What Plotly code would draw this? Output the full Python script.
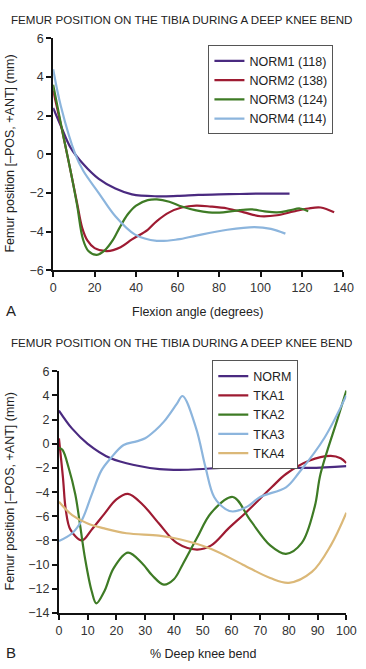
import plotly.graph_objects as go

W, H = 366, 669

# ---------- Panel A data ----------
norm1_x = [0, 4, 8.4, 14.5, 22, 30, 38, 50, 60, 70, 80, 90, 100, 114]
norm1_y = [2.4, 1.4, 0.35, -0.5, -1.27, -1.77, -2.07, -2.17, -2.15, -2.1, -2.07, -2.05, -2.03, -2.03]

norm2_x = [0, 5, 8.4, 11.5, 14, 16.5, 20, 26, 32.5, 38, 45.6, 50, 56, 62, 69, 76, 84, 92, 100, 108, 116, 123, 129, 135.5]
norm2_y = [3.3, 0.9, -0.86, -2.5, -3.8, -4.45, -4.85, -5.0, -4.8, -4.4, -3.9, -3.45, -3.0, -2.75, -2.65, -2.7, -2.8, -3.0, -3.2, -3.15, -2.95, -2.8, -2.75, -3.0]

norm3_x = [0, 5, 8.4, 11.5, 14.4, 17, 21, 25, 29, 32, 36, 40, 45.6, 50, 56, 62, 69, 75, 82, 90, 96, 102, 108, 114, 119, 123]
norm3_y = [3.6, 0.9, -0.86, -2.6, -4.4, -5.0, -5.2, -4.95, -4.4, -3.8, -3.1, -2.65, -2.37, -2.33, -2.45, -2.7, -2.9, -3.0, -3.0, -2.88, -2.85, -2.95, -3.0, -2.9, -2.8, -2.95]

norm4_x = [0, 3.7, 10.7, 14.5, 22, 30, 39.5, 50, 60, 69, 84, 97, 105, 112]
norm4_y = [4.4, 2.5, 0.0, -0.85, -2.0, -3.2, -4.15, -4.47, -4.4, -4.2, -3.9, -3.76, -3.85, -4.1]

# ---------- Panel B data ----------
norm_x = [0, 4.6, 10, 18, 27, 35, 45, 59, 72, 87, 100]
norm_y = [2.75, 1.25, 0.0, -1.2, -1.8, -2.1, -2.15, -1.95, -1.9, -2.0, -1.85]

tka1_x = [0, 1.4, 2.4, 4, 8, 11.4, 15.8, 20, 24, 29, 34.8, 41, 48, 53, 59, 65, 74, 79, 87, 94.6, 98, 100]
tka1_y = [0.45, -2.8, -5.5, -7.1, -8.0, -7.1, -5.8, -4.6, -4.15, -5.0, -6.6, -8.2, -8.75, -8.4, -7.0, -5.7, -3.6, -2.5, -1.4, -1.0, -1.2, -1.6]

tka2_x = [0, 1.2, 3.4, 5.7, 7.4, 9.1, 11.4, 13, 15.8, 19, 24, 29, 32.5, 36.5, 40, 43, 48, 53, 60.5, 66.5, 73.5, 79, 84.5, 89, 91, 97, 100]
tka2_y = [-0.35, -0.5, -2.0, -4.2, -6.8, -9.5, -12.2, -13.2, -12.2, -10.3, -9.0, -9.9, -10.9, -11.65, -11.2, -10.0, -7.8, -5.7, -4.4, -6.3, -8.4, -9.1, -8.2, -5.2, -2.5, 2.1, 4.4]

tka3_x = [0, 4.6, 8, 11.4, 14.8, 18, 22.5, 27, 30, 33.5, 36.6, 41, 43, 47.7, 51, 54, 58, 60.5, 65.5, 70, 79, 83.5, 92.4, 100]
tka3_y = [-8.05, -7.4, -6.3, -4.2, -2.2, -1.2, -0.1, 0.2, 0.45, 1.1, 1.85, 3.3, 3.95, 1.3, -1.95, -4.4, -5.4, -5.6, -5.2, -4.4, -3.6, -2.4, 0.5, 4.0]

tka4_x = [0, 4.6, 10, 15.8, 23.5, 34.8, 42, 53, 64, 73.5, 80, 88, 94.6, 100]
tka4_y = [-4.8, -5.9, -6.6, -7.0, -7.4, -7.6, -7.9, -8.7, -10.0, -11.1, -11.5, -10.6, -8.4, -5.7]

PURPLE = "#4a2a80"
RED = "#9e1b32"
GREEN = "#3e7b25"
BLUE = "#8cb5dd"
TAN = "#dbb878"

fig = go.Figure()

def add(x, y, name, color, xa, ya, legend):
    fig.add_trace(go.Scatter(
        x=x, y=y, name=name, mode="lines",
        line=dict(color=color, width=2.2, shape="spline", smoothing=1.0),
        xaxis=xa, yaxis=ya, legend=legend,
    ))

add(norm1_x, norm1_y, "NORM1 (118)", PURPLE, "x", "y", "legend")
add(norm2_x, norm2_y, "NORM2 (138)", RED, "x", "y", "legend")
add(norm3_x, norm3_y, "NORM3 (124)", GREEN, "x", "y", "legend")
add(norm4_x, norm4_y, "NORM4 (114)", BLUE, "x", "y", "legend")

add(norm_x, norm_y, "NORM", PURPLE, "x2", "y2", "legend2")
add(tka1_x, tka1_y, "TKA1", RED, "x2", "y2", "legend2")
add(tka2_x, tka2_y, "TKA2", GREEN, "x2", "y2", "legend2")
add(tka3_x, tka3_y, "TKA3", BLUE, "x2", "y2", "legend2")
add(tka4_x, tka4_y, "TKA4", TAN, "x2", "y2", "legend2")

def px_x(p):
    return p / W

def px_y(p):
    return 1 - p / H

FONT = "Liberation Sans, Arial, sans-serif"

axis_common = dict(
    showline=True, linecolor="#111", linewidth=2, showgrid=False, zeroline=False,
    ticks="outside", ticklen=5, tickwidth=1.5, tickcolor="#111",
    tickfont=dict(family=FONT, size=12.5, color="#333"),
    fixedrange=True,
)

fig.update_layout(
    width=W, height=H,
    margin=dict(l=0, r=0, t=0, b=0),
    paper_bgcolor="white", plot_bgcolor="white",
    font=dict(family=FONT, color="#333"),
    xaxis=dict(domain=[px_x(52), px_x(353)], range=[0, 140], tickvals=list(range(0, 141, 20)),
               anchor="y", **axis_common),
    yaxis=dict(domain=[px_y(269), px_y(32)], range=[-6, 6], tickvals=list(range(-6, 7, 2)),
               anchor="x", **axis_common),
    xaxis2=dict(domain=[px_x(58), px_x(356)], range=[0, 100], tickvals=list(range(0, 101, 10)),
                anchor="y2", **axis_common),
    yaxis2=dict(domain=[px_y(619), px_y(372)], range=[-14, 6], tickvals=list(range(-14, 7, 2)),
                anchor="x2", **axis_common),
    legend=dict(x=px_x(213), y=px_y(39), xanchor="left", yanchor="top",
                bordercolor="#555", borderwidth=1, bgcolor="white",
                font=dict(family=FONT, size=12.5, color="#222"), tracegroupgap=0,
                itemwidth=30),
    legend2=dict(x=px_x(217), y=px_y(361), xanchor="left", yanchor="top",
                 bordercolor="#555", borderwidth=1, bgcolor="white",
                 font=dict(family=FONT, size=12.5, color="#222"), tracegroupgap=0,
                 itemwidth=30),
    showlegend=True,
)

TITLE = "FEMUR POSITION ON THE TIBIA DURING A DEEP KNEE BEND"
YT = "Femur position [–POS, +ANT] (mm)"

ann = [
    dict(text=TITLE, x=px_x(185), y=px_y(13), xanchor="center", yanchor="middle", size=11.6),
    dict(text=TITLE, x=px_x(185), y=px_y(343), xanchor="center", yanchor="middle", size=11.6),
    dict(text="Flexion angle (degrees)", x=px_x(202), y=px_y(312), xanchor="center", yanchor="middle", size=12.5),
    dict(text="% Deep knee bend", x=px_x(207), y=px_y(661), xanchor="center", yanchor="middle", size=12.5),
    dict(text="A", x=px_x(1), y=px_y(310), xanchor="left", yanchor="middle", size=15),
    dict(text="B", x=px_x(1), y=px_y(659), xanchor="left", yanchor="middle", size=15),
]
for a in ann:
    fig.add_annotation(text=a["text"], x=a["x"], y=a["y"], xref="paper", yref="paper",
                       xanchor=a["xanchor"], yanchor=a["yanchor"], showarrow=False,
                       font=dict(family=FONT, size=a["size"], color="#222"))

for yc in (150, 495):
    fig.add_annotation(text=YT, x=px_x(7), y=px_y(yc), xref="paper", yref="paper",
                       xanchor="center", yanchor="middle", textangle=-90, showarrow=False,
                       font=dict(family=FONT, size=12.5, color="#222"))

fig.write_html(
    "out.html",
    config={"displayModeBar": False},
    post_script="document.body.style.margin='0';document.body.style.padding='0';"
                "document.body.style.overflow='hidden';",
)
